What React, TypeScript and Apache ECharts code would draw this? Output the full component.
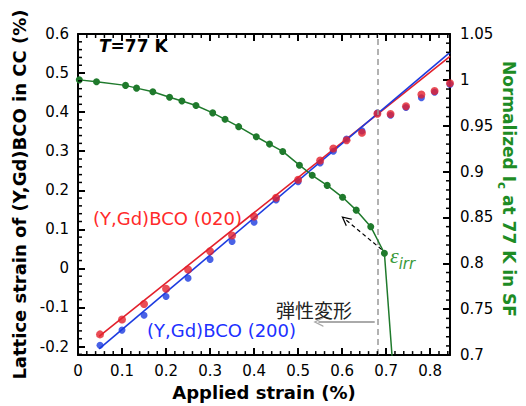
import React, { useEffect, useRef } from "react";
import * as echarts from "echarts";

// ---- data ----
const strainX = [0.05, 0.1, 0.15, 0.2, 0.25, 0.3, 0.35, 0.4, 0.45, 0.5, 0.55, 0.58, 0.61, 0.645, 0.68, 0.71, 0.745, 0.78, 0.81, 0.845];
const latt020 = [-0.169, -0.131, -0.091, -0.052, -0.003, 0.044, 0.084, 0.133, 0.181, 0.227, 0.276, 0.307, 0.328, 0.347, 0.396, 0.395, 0.415, 0.445, 0.454, 0.474];
const latt200 = [-0.197, -0.158, -0.12, -0.072, -0.025, 0.023, 0.069, 0.118, 0.175, 0.222, 0.27, 0.3, 0.331, 0.352, 0.398, 0.392, 0.412, 0.437, 0.451, 0.471];

const fitX = [0.048, 0.845];
const fit020 = [-0.174, 0.543];
const fit200 = [-0.206, 0.553];

const icX = [0.003, 0.042, 0.108, 0.133, 0.17, 0.208, 0.236, 0.268, 0.306, 0.334, 0.365, 0.405, 0.435, 0.465, 0.503, 0.532, 0.566, 0.601, 0.632, 0.665, 0.696, 0.72];
const icY = [1.0, 0.998, 0.994, 0.991, 0.987, 0.981, 0.977, 0.972, 0.964, 0.957, 0.949, 0.938, 0.93, 0.922, 0.907, 0.896, 0.885, 0.872, 0.858, 0.84, 0.811, 0.656];

const icOpenX = [0.208, 0.306, 0.365, 0.41, 0.467, 0.5, 0.565, 0.599];
const icOpenY = [0.979, 0.961, 0.946, 0.935, 0.919, 0.905, 0.879, 0.852];

const elasticLimitX = 0.679;
const elasticArrow = [[0.674, -0.137], [0.546, -0.137]];
const irrArrow = [[0.69, 0.815], [0.607, 0.848]];

const X_MIN = 0, X_MAX = 0.845;
const YL_MIN = -0.222, YL_MAX = 0.6;
const YR_MIN = 0.7, YR_MAX = 1.05;

// tick steps (major / minor)
const X_STEP = 0.1, X_MINOR = 0.02;
const YL_STEP = 0.1, YL_MINOR = 0.02;
const YR_STEP = 0.05, YR_MINOR = 0.01;

const FONT = "'DejaVu Sans', 'Liberation Sans', sans-serif";
const GREEN = "#1f7a2c";
const TITLE_GREEN = "#1e8c25";
const RED = "#e3202c";
const BLUE = "#1c3be0";

const chevron = "path://M5,0 L10,10 L8.6,10 L5,2.8 L1.4,10 L0,10 Z";

const zip = (a: number[], b: number[]) => a.map((v, i) => [v, b[i]]);
const fmt = (v: number) => String(Math.round(v * 1000) / 1000);

// minor tick positions along each axis (major positions excluded)
function minorValues(min: number, max: number, step: number, major: number) {
  const out: number[] = [];
  const start = Math.ceil(min / step - 1e-9);
  const end = Math.floor(max / step + 1e-9);
  for (let k = start; k <= end; k++) {
    const v = Math.round(k * step * 1000) / 1000;
    if (Math.abs(v / major - Math.round(v / major)) > 1e-6) out.push(v);
  }
  return out;
}
const xMinorTicks = minorValues(X_MIN, X_MAX, X_MINOR, X_STEP);
const ylMinorTicks = minorValues(YL_MIN, YL_MAX, YL_MINOR, YL_STEP);
const yrMinorTicks = minorValues(YR_MIN, YR_MAX, YR_MINOR, YR_STEP);

export default function App() {
  const ref = useRef<HTMLDivElement>(null);
  useEffect(() => {
    if (!ref.current) return;
    const chart = echarts.init(ref.current, undefined, { renderer: "svg" });
    const line = { color: "#000", width: 2 };
    const base = (min: number, max: number, step: number) => ({
      type: "value", min, max, minInterval: step, maxInterval: step,
      splitNumber: Math.round((max - min) / step), splitLine: { show: false },
    });
    const label = (margin: number, extra: any) => ({
      show: true, fontFamily: FONT, fontSize: 15, color: "#000", margin, formatter: fmt, ...extra,
    });
    const majorTick = { show: true, inside: true, length: 7, lineStyle: { color: "#000", width: 2 } };

    const minorSeries = (kind: "x" | "yl" | "yr", ticks: number[]) => ({
      type: "custom", name: "minor-ticks-" + kind, xAxisIndex: 0, yAxisIndex: kind === "yr" ? 1 : 0,
      clip: false, silent: true, z: 10,
      data: ticks.map((v) => (kind === "x" ? [v, YL_MIN] : [X_MIN, v])),
      encode: { x: 0, y: 1 },
      renderItem: (params: any, api: any) => {
        const cs = params.coordSys;
        const v = ticks[params.dataIndex];
        const len = 4;
        const st = { stroke: "#000", lineWidth: 1.5 };
        if (kind === "x") {
          const x = api.coord([v, YL_MIN])[0];
          return {
            type: "group",
            children: [
              { type: "line", shape: { x1: x, y1: cs.y + cs.height, x2: x, y2: cs.y + cs.height - len }, style: { ...st } },
              { type: "line", shape: { x1: x, y1: cs.y, x2: x, y2: cs.y + len }, style: { ...st } },
            ],
          };
        }
        const y = api.coord([X_MIN, v])[1];
        const x0 = kind === "yl" ? cs.x : cs.x + cs.width;
        const dir = kind === "yl" ? 1 : -1;
        return { type: "line", shape: { x1: x0, y1: y, x2: x0 + dir * len, y2: y }, style: { ...st } };
      },
    });

    const option: any = {
      animation: false,
      grid: { left: 78, right: 76, top: 34, bottom: 44 },
      xAxis: [
        {
          ...base(X_MIN, X_MAX, X_STEP), position: "bottom",
          axisLine: { show: true, onZero: false, lineStyle: line },
          axisTick: majorTick,
          axisLabel: label(8, { showMaxLabel: false, showMinLabel: true }),
          name: "Applied strain (%)", nameLocation: "middle", nameGap: 23,
          nameTextStyle: { fontFamily: FONT, fontSize: 18, fontWeight: "bold", color: "#000" },
        },
        {
          ...base(X_MIN, X_MAX, X_STEP), position: "top",
          axisLine: { show: true, onZero: false, lineStyle: line },
          axisTick: majorTick, axisLabel: { show: false },
        },
      ],
      yAxis: [
        {
          ...base(YL_MIN, YL_MAX, YL_STEP), position: "left",
          axisLine: { show: true, onZero: false, lineStyle: line },
          axisTick: majorTick,
          axisLabel: label(9, { showMinLabel: false, showMaxLabel: true }),
          name: "Lattice strain of (Y,Gd)BCO in CC (%)", nameLocation: "middle", nameGap: 42,
          nameTextStyle: { fontFamily: FONT, fontSize: 18, fontWeight: "bold", color: "#000" },
        },
        {
          ...base(YR_MIN, YR_MAX, YR_STEP), position: "right",
          axisLine: { show: true, onZero: false, lineStyle: line },
          axisTick: majorTick,
          axisLabel: label(10, { showMinLabel: true, showMaxLabel: true }),
        },
      ],
      series: [
        minorSeries("x", xMinorTicks),
        minorSeries("yl", ylMinorTicks),
        minorSeries("yr", yrMinorTicks),
        {
          type: "line", name: "fit (020)", xAxisIndex: 0, yAxisIndex: 0,
          data: zip(fitX, fit020), symbol: "none", lineStyle: { color: RED, width: 1.6 }, z: 2,
          markLine: {
            silent: true, symbol: ["none", "none"], label: { show: false },
            lineStyle: { color: "#999", type: [6, 4], width: 1.5 },
            data: [{ xAxis: elasticLimitX }],
          },
        },
        {
          type: "line", name: "fit (200)", xAxisIndex: 0, yAxisIndex: 0,
          data: zip(fitX, fit200), symbol: "none", lineStyle: { color: BLUE, width: 1.6 }, z: 2,
          markLine: {
            silent: true, symbol: ["none", chevron], symbolSize: 10, label: { show: false },
            lineStyle: { color: "#aaa", type: "solid", width: 2 },
            data: [[{ coord: elasticArrow[0] }, { coord: elasticArrow[1] }]],
          },
        },
        {
          type: "scatter", name: "(200)", xAxisIndex: 0, yAxisIndex: 0, clip: false,
          data: zip(strainX, latt200), symbolSize: 7, itemStyle: { color: BLUE }, z: 3,
        },
        {
          type: "scatter", name: "(020)", xAxisIndex: 0, yAxisIndex: 0, clip: false,
          data: zip(strainX, latt020), symbolSize: 8, itemStyle: { color: RED }, z: 4,
        },
        {
          type: "scatter", name: "Ic unloaded", xAxisIndex: 0, yAxisIndex: 1,
          data: zip(icOpenX, icOpenY), symbol: "emptyCircle", symbolSize: 6,
          itemStyle: { color: "#fff", borderColor: "#5a9a5a", borderWidth: 1 }, z: 3,
        },
        {
          type: "line", name: "Ic", xAxisIndex: 0, yAxisIndex: 1,
          data: zip(icX, icY).map((p, i) => (i === icX.length - 1 ? { value: p, symbolSize: 0 } : p)),
          symbol: "circle", symbolSize: 7, showSymbol: true,
          lineStyle: { color: GREEN, width: 1.5 }, itemStyle: { color: GREEN }, z: 5,
          markLine: {
            silent: true, symbol: ["none", chevron], symbolSize: 10, label: { show: false },
            lineStyle: { color: "#000", type: [4, 3], width: 1.2 },
            data: [[{ coord: irrArrow[0] }, { coord: irrArrow[1] }]],
          },
        },
      ],
      graphic: [
        {
          type: "text", x: 511, y: 189, rotation: -Math.PI / 2,
          style: {
            text: "{a|Normalized I}{s|c}{a| at 77 K in SF}",
            align: "center", verticalAlign: "middle",
            rich: {
              a: { fontFamily: FONT, fontSize: 17, fontWeight: "bold", fill: TITLE_GREEN, lineHeight: 22, verticalAlign: "bottom" },
              s: { fontFamily: FONT, fontSize: 12, fontWeight: "bold", fill: TITLE_GREEN, lineHeight: 22, verticalAlign: "bottom", padding: [0, 0, -4, 0] },
            },
          },
        },
        {
          type: "text", left: 99, top: 37,
          style: {
            text: "{i|T}{b|=77 K}",
            rich: {
              i: { fontFamily: FONT, fontSize: 17, fontWeight: "bold", fontStyle: "italic", fill: "#000" },
              b: { fontFamily: FONT, fontSize: 17, fontWeight: "bold", fill: "#000" },
            },
          },
        },
        {
          type: "text", left: 93, top: 209,
          style: { text: "(Y,Gd)BCO (020)", fontFamily: FONT, fontSize: 18, fill: "#ff2a2a" },
        },
        {
          type: "text", left: 147, top: 321,
          style: { text: "(Y,Gd)BCO (200)", fontFamily: FONT, fontSize: 18, fill: "#2030ff" },
        },
        {
          type: "text", left: 276, top: 300,
          style: { text: "弾性変形", fontFamily: "'Noto Sans CJK JP', sans-serif", fontSize: 19, fill: "#222" },
        },
        {
          type: "text", left: 390, top: 244,
          style: {
            text: "{e|ε}{s|irr}",
            rich: {
              e: { fontFamily: "'Liberation Serif', serif", fontSize: 22, fontStyle: "italic", fill: "#3a9a3a", verticalAlign: "bottom" },
              s: { fontFamily: FONT, fontSize: 15, fontStyle: "italic", fill: "#3a9a3a", verticalAlign: "bottom", padding: [0, 0, -5, 0] },
            },
          },
        },
      ],
    };
    chart.setOption(option);
    return () => chart.dispose();
  }, []);
  return <div ref={ref} style={{ position: "fixed", left: 0, top: 0, width: 526, height: 406, background: "#fff" }} />;
}
